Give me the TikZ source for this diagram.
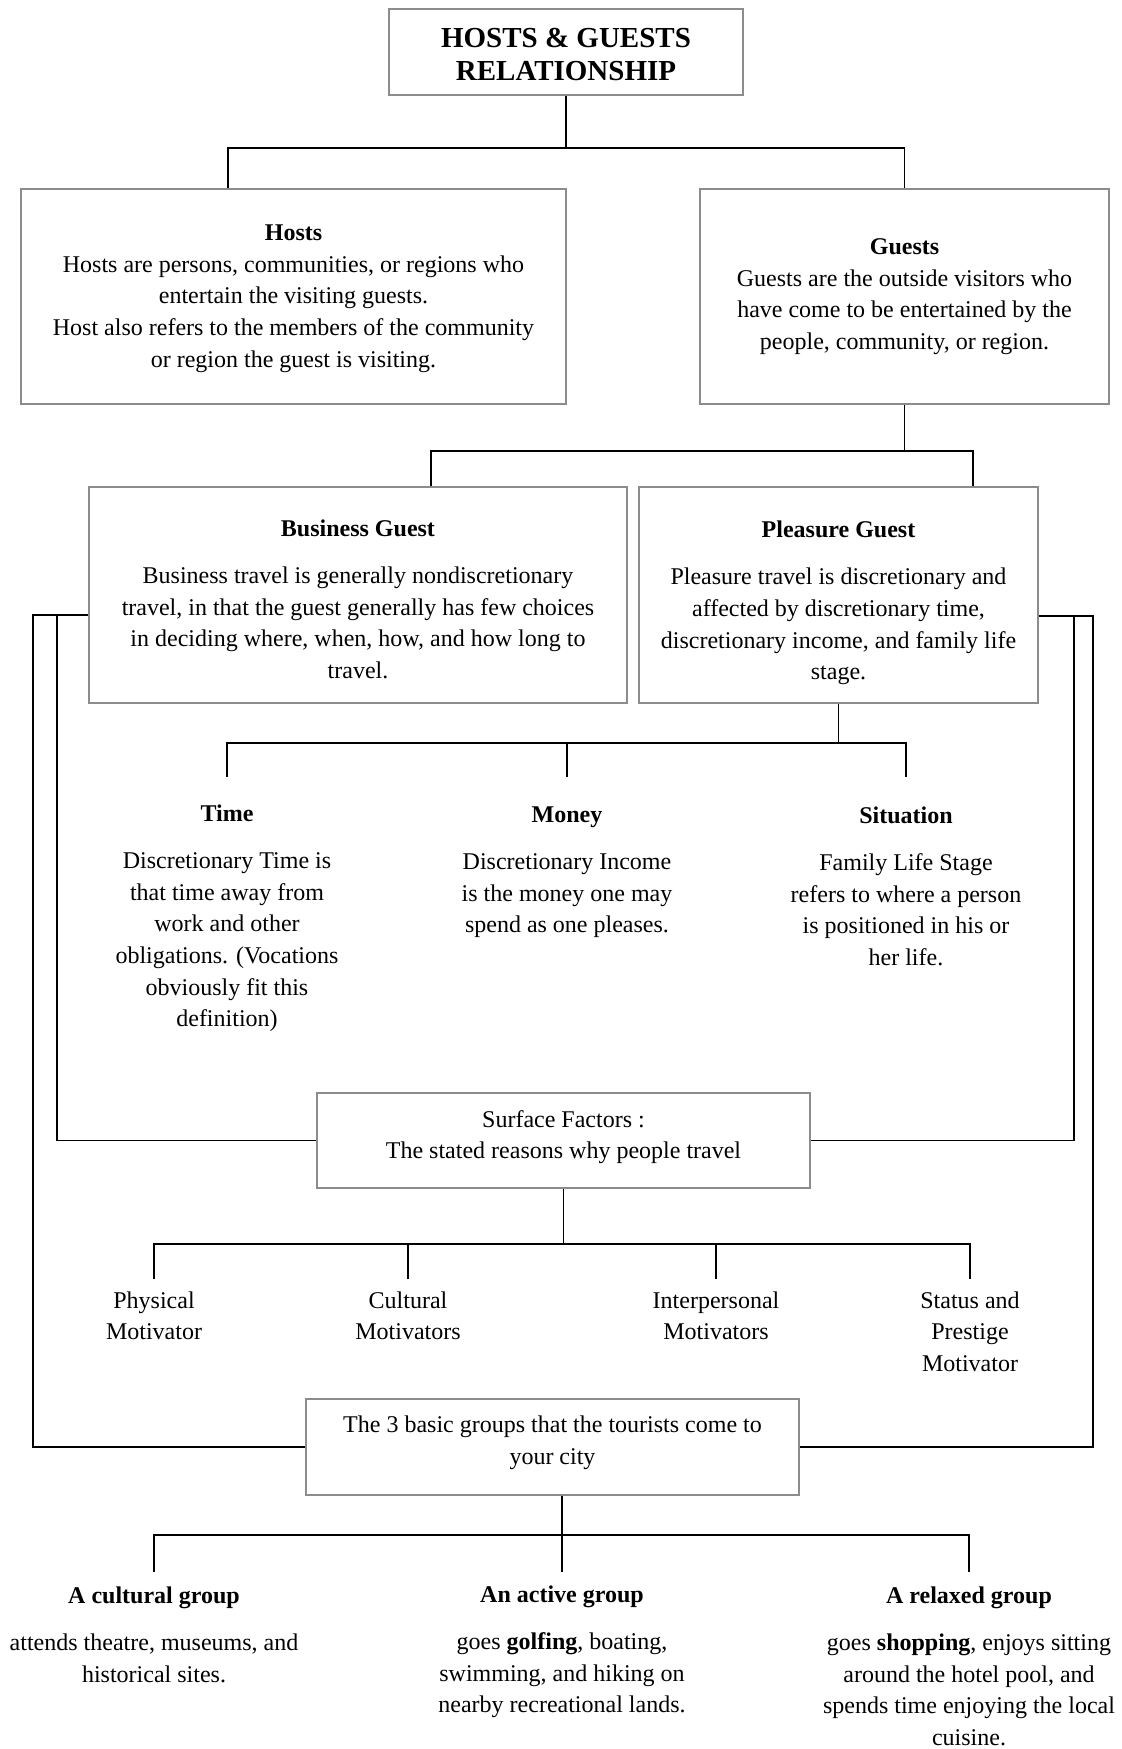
\documentclass[tikz,border=0pt]{standalone}
\usepackage{fontspec}
\setmainfont{Liberation Serif}

\begin{document}
\begin{tikzpicture}[
  x=0.5pt, y=-0.5pt,
  font=\fontsize{12}{15.8}\selectfont,
  box/.style={draw=black!45, line width=0.7pt, align=center, inner sep=0pt},
  plain/.style={align=center, inner sep=0pt, anchor=north},
  link/.style={draw=black, line width=0.65pt},
]
\useasboundingbox (0,0) rectangle (1121,1749);

% Title and the two parties
\node[box, minimum width=177pt, minimum height=43pt, font=\bfseries\fontsize{14.5}{16.5}\selectfont] (title) at (566,52) {\rule{0pt}{12.5pt}HOSTS \& GUESTS\\RELATIONSHIP};
\node[box, minimum width=272.5pt, minimum height=107.5pt] (hosts) at (293.5,296.5) {\rule{0pt}{10pt}\textbf{Hosts}\\Hosts are persons, communities, or regions who\\entertain the visiting guests.\\Host also refers to the members of the community\\or region the guest is visiting.};
\node[box, minimum width=204.5pt, minimum height=107.5pt] (guests) at (904.5,296.5) {\textbf{Guests}\\Guests are the outside visitors who\\have come to be entertained by the\\people, community, or region.};

% Kinds of guests
\node[box, minimum width=269pt, minimum height=108pt] (business) at (358,595) {\rule{0pt}{12.5pt}\textbf{Business Guest}\\[8pt]Business travel is generally nondiscretionary\\travel, in that the guest generally has few choices\\in deciding where, when, how, and how long to\\travel.};
\node[box, minimum width=199.5pt, minimum height=108pt] (pleasure) at (838.5,595) {\rule{0pt}{16pt}\textbf{Pleasure Guest}\\[8pt]Pleasure travel is discretionary and\\affected by discretionary time,\\discretionary income, and family life\\stage.};

% Time, money, situation
\node[plain] (time) at (227,804) {\textbf{Time}\\[8pt]Discretionary Time is\\that time away from\\work and other\\obligations. (Vocations\\obviously fit this\\definition)};
\node[plain] (money) at (567,806) {\textbf{Money}\\[8pt]Discretionary Income\\is the money one may\\spend as one pleases.};
\node[plain] (situation) at (906,806) {\textbf{Situation}\\[8pt]Family Life Stage\\refers to where a person\\is positioned in his or\\her life.};

% Surface factors and motivators
\node[box, minimum width=246.5pt, minimum height=47.5pt] (surface) at (563.5,1140.5) {Surface Factors :\\The stated reasons why people travel\rule[-6pt]{0pt}{6pt}};
\node[plain] (physical) at (154,1291) {Physical\\Motivator};
\node[plain] (cultural) at (408,1291) {Cultural\\Motivators};
\node[plain] (interpersonal) at (716,1291) {Interpersonal\\Motivators};
\node[plain] (status) at (970,1291) {Status and\\Prestige\\Motivator};

% Tourist groups
\node[box, minimum width=246.5pt, minimum height=48pt] (groups) at (552.5,1447) {The 3 basic groups that the tourists come to\\your city\rule[-7pt]{0pt}{7pt}};
\node[plain] (culturalgrp) at (154,1586) {\textbf{A cultural group}\\[8pt]attends theatre, museums, and\\historical sites.};
\node[plain] (activegrp) at (562,1585) {\textbf{An active group}\\[8pt]goes \textbf{golfing}, boating,\\swimming, and hiking on\\nearby recreational lands.};
\node[plain] (relaxedgrp) at (969,1586) {\textbf{A relaxed group}\\[8pt]goes \textbf{shopping}, enjoys sitting\\around the hotel pool, and\\spends time enjoying the local\\cuisine.};

% Tree connectors
\coordinate (topbus) at (566,148);
\draw[link] (title.south) -- (topbus);
\draw[link] (hosts.north -| 228,0) |- (topbus) -| (guests.north);

\coordinate (guestbus) at (904.5,451);
\draw[link] (guests.south) -- (guestbus);
\draw[link] (business.north -| 431,0) |- (guestbus) -| (pleasure.north -| 973,0);

\coordinate (reasonbus) at (838.5,743);
\draw[link] ([yshift=13.5pt]time.north) |- (reasonbus) -| ([yshift=14.5pt]situation.north);
\draw[link] (pleasure.south) -- (reasonbus);
\draw[link] ([yshift=14.5pt]money.north) -- (money.north |- reasonbus);

\coordinate (surfbus) at (563.5,1244);
\draw[link] (surface.south) -- (surfbus);
\draw[link] ([yshift=6pt]physical.north) |- (surfbus) -| ([yshift=6pt]status.north);
\draw[link] ([yshift=6pt]cultural.north) -- (cultural.north |- surfbus);
\draw[link] ([yshift=6pt]interpersonal.north) -- (interpersonal.north |- surfbus);

\coordinate (groupbus) at (562,1535);
\draw[link] (groups.south -| activegrp.north) -- ([yshift=6.5pt]activegrp.north);
\draw[link] ([yshift=7pt]culturalgrp.north) |- (groupbus) -| ([yshift=7pt]relaxedgrp.north);

% Side frames from the guest boxes
\coordinate (leftouter) at (33,615);
\coordinate (leftinner) at (57,615);
\draw[link] (business.west |- leftouter) -- (leftouter) |- (groups.west);
\draw[link] (leftinner) |- (surface.west);

\coordinate (rightouter) at (1093,616);
\coordinate (rightinner) at (1074,616);
\draw[link] (pleasure.east |- rightouter) -- (rightouter) |- (groups.east);
\draw[link] (rightinner) |- (surface.east);

\end{tikzpicture}
\end{document}
